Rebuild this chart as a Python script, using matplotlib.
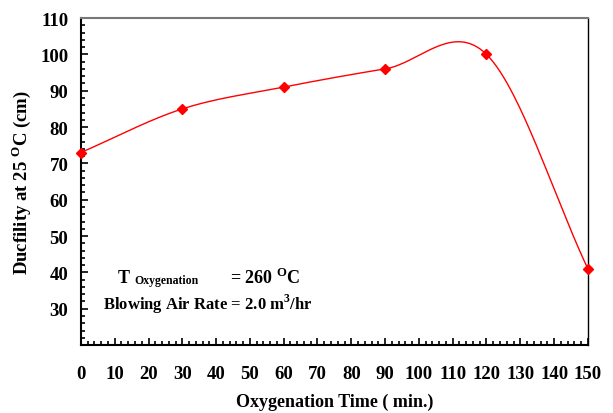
import numpy as np
import matplotlib
matplotlib.use('Agg')
import matplotlib.pyplot as plt
from matplotlib.ticker import MultipleLocator

plt.rcParams['font.family'] = 'Liberation Serif'
plt.rcParams['font.weight'] = 'bold'
plt.rcParams['mathtext.fontset'] = 'custom'
plt.rcParams['mathtext.rm'] = 'Liberation Serif:bold'
plt.rcParams['mathtext.bf'] = 'Liberation Serif:bold'

# Data
time_min = [0, 30, 60, 90, 120, 150]
ductility = [73, 85, 91, 96, 100, 41]
x_ticks = list(range(0, 151, 10))
y_ticks = list(range(30, 111, 10))


def smooth_line(x, y, n=60):
    # Catmull-Rom style smoothing, like a spreadsheet "smoothed line"
    x = np.asarray(x, float)
    y = np.asarray(y, float)
    m = np.zeros_like(y)
    m[0] = (y[1] - y[0]) / (x[1] - x[0])
    m[-1] = (y[-1] - y[-2]) / (x[-1] - x[-2])
    m[1:-1] = (y[2:] - y[:-2]) / (x[2:] - x[:-2])
    xs, ys = [], []
    for i in range(len(x) - 1):
        h = x[i + 1] - x[i]
        t = np.linspace(0, 1, n)
        h00 = 2 * t**3 - 3 * t**2 + 1
        h10 = t**3 - 2 * t**2 + t
        h01 = -2 * t**3 + 3 * t**2
        h11 = t**3 - t**2
        xs.append(x[i] + t * h)
        ys.append(h00 * y[i] + h10 * h * m[i] + h01 * y[i + 1] + h11 * h * m[i + 1])
    return np.concatenate(xs), np.concatenate(ys)


fig = plt.figure(figsize=(6.13, 4.14), dpi=100)
ax = fig.add_axes([0.132, 0.164, 0.827, 0.790])

sx, sy = smooth_line(time_min, ductility)
ax.plot(sx, sy, color='red', linewidth=1.0)
ax.plot(time_min, ductility, linestyle='none', marker='D', markersize=5,
        color='red', clip_on=False, zorder=5)

ax.set_xlim(0, 150)
ax.set_ylim(20, 110)
ax.set_xticks(x_ticks)
ax.set_yticks(y_ticks)
ax.xaxis.set_minor_locator(MultipleLocator(2))
ax.yaxis.set_minor_locator(MultipleLocator(2))
ax.tick_params(which='both', direction='in', labelsize=13.5, width=1.2)
ax.tick_params(which='major', length=5)
ax.tick_params(which='minor', length=3)
ax.tick_params(axis='x', which='major', pad=14)
ax.tick_params(axis='y', which='major', pad=9)

for side in ['left', 'bottom']:
    ax.spines[side].set_linewidth(1.5)
ax.spines['right'].set_linewidth(1.0)
ax.spines['top'].set_linewidth(1.5)
ax.spines['top'].set_color('#777777')

ax.set_xlabel('Oxygenation Time ( min.)', fontsize=13, fontweight='bold', labelpad=8)
ax.set_ylabel(r'Ducfility at 25 $^{\mathrm{O}}$C (cm)', fontsize=13.5, fontweight='bold', labelpad=5)

# annotation
ax.text(11, 38.7, 'T', fontsize=13, fontweight='bold', va='center')
ax.text(15.8, 37.9, 'Oxygenation', fontsize=8.5, fontweight='bold', va='center')
ax.text(44, 38.7, r'= 260 $^{\mathrm{O}}$C', fontsize=13, fontweight='bold', va='center')
ax.text(6.6, 31.6, 'Blowing Air Rate = 2.0 m$^{\\mathrm{3}}$/hr', fontsize=12, fontweight='bold', va='center')

fig.savefig('out.png', dpi=100)
